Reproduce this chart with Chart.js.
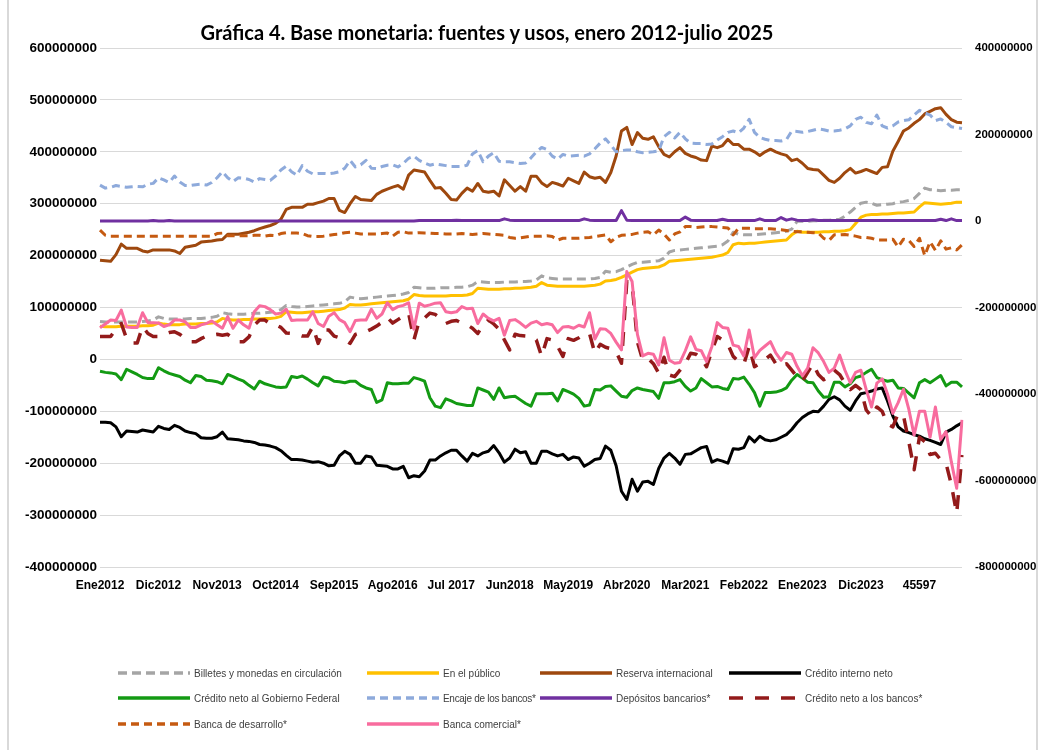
<!DOCTYPE html>
<html lang="es">
<head>
<meta charset="utf-8">
<title>Base monetaria: fuentes y usos</title>
<script src="https://cdn.jsdelivr.net/npm/chart.js@4.4.1/dist/chart.umd.min.js"></script>
<style>
  html, body { margin: 0; padding: 0; background: #fff; }
  #wrap { position: relative; width: 1041px; height: 750px; overflow: hidden; }
  #wrap::before, #wrap::after { content: ""; position: absolute; top: 0; bottom: 0; width: 2px; background: #d9d9d9; }
  #wrap::before { left: 7px; }
  #wrap::after { left: 1036px; }
  #title { position: absolute; left: 0; width: 974px; top: 20px; text-align: center;
           font: bold 20px Lato, "Open Sans", sans-serif; color: #000; }
  canvas { position: absolute; left: 0; top: 0; }
  .lg { position: absolute; display: flex; align-items: center; height: 12px;
        font: 10px "Liberation Sans", Arial, sans-serif; color: #404040; white-space: nowrap; }
  .lg svg { margin-right: 4px; }
</style>
</head>
<body>
<div id="wrap">
  <canvas id="chart" width="1041" height="750"></canvas>
  <div id="title">Gráfica 4. Base monetaria: fuentes y usos, enero 2012-julio 2025</div>
  <div id="legend"></div>
</div>
<script>
// millones de pesos, mensual ene 2012 - jul 2025
const tickLabels = ["Ene2012", "Dic2012", "Nov2013", "Oct2014", "Sep2015", "Ago2016", "Jul 2017",
  "Jun2018", "May2019", "Abr2020", "Mar2021", "Feb2022", "Ene2023", "Dic2023", "45597"];

const billetes = [
  73,72,72,72,72,72,72,72,73,74,76,82,
  79,78,78,78,78,79,79,79,80,81,83,90,
  88,87,87,87,88,89,89,90,91,93,96,104,
  102,101,101,102,103,104,105,106,107,108,111,120,
  118,117,118,119,120,121,122,123,124,126,129,139,
  138,137,137,137,138,138,138,139,139,140,143,150,
  149,148,148,148,149,149,149,150,150,151,153,161,
  157,156,155,155,155,155,155,155,155,156,158,170,
  168,169,173,178,183,187,187,188,189,190,195,207,
  210,211,212,213,214,215,216,217,218,221,228,245,
  241,240,240,240,241,242,243,244,245,247,251,266,
  266,266,267,267,268,268,269,270,276,284,293,301,
  303,301,297,298,299,300,303,304,306,310,320,330,
  327,326,325,326,326,327,327
];

const enPublico = [
  64,63,63,63,64,64,64,64,65,65,66,70,
  68,67,67,67,68,68,68,69,69,70,72,79,
  77,76,76,77,77,78,78,79,79,80,83,92,
  91,90,90,91,92,92,93,94,95,96,99,106,
  105,105,106,107,108,109,110,111,112,113,116,125,
  123,122,122,122,122,122,123,123,123,124,127,137,
  136,135,135,135,136,136,137,137,138,139,141,148,
  143,142,141,141,141,141,141,141,142,143,145,151,
  152,154,158,163,168,173,175,176,177,178,182,189,
  190,191,192,193,194,195,196,197,199,201,206,221,
  224,223,224,224,225,226,227,228,229,230,240,247,
  245,245,245,245,246,246,247,247,248,250,262,274,
  278,279,279,280,280,281,282,282,283,284,294,302,
  301,300,299,300,301,303,303
];

const reserva = [
  191,190,189,202,222,214,214,214,209,207,211,211,
  211,211,209,204,216,218,220,226,227,228,230,231,
  241,241,241,243,245,248,252,255,258,262,270,289,
  293,293,293,299,299,302,305,310,310,287,283,300,
  314,308,307,306,318,324,328,332,335,328,355,365,
  363,361,345,330,331,320,308,307,320,330,324,339,
  324,322,324,315,346,335,324,333,324,353,353,340,
  333,341,338,334,349,344,339,361,352,349,351,341,
  360,392,440,447,414,437,426,424,429,410,395,390,
  400,408,397,392,389,384,383,411,408,412,424,414,
  414,405,405,400,393,400,405,400,396,393,383,386,
  378,368,366,365,355,345,341,349,360,368,359,362,
  366,362,358,370,371,401,420,440,446,455,462,473,
  478,483,485,472,462,457,456
];

const creditoInterno = [
  -121,-121,-122,-130,-149,-138,-139,-140,-136,-138,-140,-129,
  -133,-135,-127,-131,-138,-141,-143,-151,-152,-152,-149,-140,
  -153,-154,-155,-157,-158,-160,-164,-165,-167,-170,-176,-185,
  -193,-193,-194,-196,-198,-197,-200,-205,-204,-186,-177,-183,
  -200,-200,-186,-188,-204,-205,-206,-211,-211,-206,-228,-224,
  -226,-215,-194,-194,-186,-180,-175,-175,-186,-196,-181,-186,
  -180,-177,-166,-180,-198,-190,-173,-180,-178,-200,-200,-177,
  -177,-182,-186,-183,-193,-188,-190,-206,-200,-193,-191,-167,
  -175,-205,-254,-270,-231,-254,-236,-235,-241,-210,-190,-181,
  -190,-202,-183,-182,-176,-170,-168,-198,-193,-196,-200,-172,
  -173,-170,-149,-159,-148,-155,-157,-155,-150,-145,-135,-122,
  -112,-105,-100,-101,-90,-77,-72,-78,-90,-98,-80,-66,
  -64,-61,-57,-55,-80,-109,-130,-138,-141,-145,-148,-153,
  -156,-160,-164,-140,-135,-128,-122
];

const gobiernoFederal = [
  -23,-25,-26,-28,-39,-19,-24,-29,-35,-37,-37,-16,
  -22,-27,-30,-33,-40,-45,-31,-33,-40,-41,-43,-47,
  -29,-33,-38,-42,-50,-57,-42,-47,-50,-53,-54,-53,
  -33,-35,-32,-38,-45,-51,-34,-36,-42,-43,-45,-42,
  -42,-50,-55,-58,-83,-78,-45,-47,-47,-46,-46,-35,
  -38,-42,-74,-90,-93,-76,-80,-85,-87,-89,-89,-55,
  -59,-63,-77,-55,-74,-72,-71,-78,-85,-90,-66,-66,
  -66,-65,-80,-58,-62,-67,-75,-90,-88,-58,-59,-52,
  -51,-61,-71,-73,-60,-55,-58,-60,-62,-75,-45,-45,
  -43,-39,-52,-61,-55,-37,-45,-53,-52,-56,-58,-37,
  -38,-34,-48,-64,-90,-64,-64,-63,-60,-55,-40,-29,
  -36,-44,-45,-61,-73,-72,-44,-44,-53,-47,-35,-32,
  -25,-19,-35,-39,-42,-40,-55,-56,-65,-74,-45,-39,
  -45,-38,-31,-51,-44,-44,-53
];

// eje secundario
const encaje = [
  83,76,78,82,80,78,79,80,79,85,87,100,
  95,89,104,90,82,82,84,85,83,89,100,114,
  100,91,100,99,96,90,98,96,94,104,118,127,
  114,106,128,115,109,110,110,109,111,114,122,140,
  125,130,140,122,121,126,129,130,125,133,145,150,
  140,134,129,132,130,128,126,126,126,129,155,163,
  137,150,158,138,137,137,135,133,134,146,160,170,
  165,150,143,154,150,151,152,150,155,167,180,190,
  176,160,163,164,164,160,158,159,160,162,195,205,
  192,205,190,180,179,179,177,178,187,195,205,208,
  204,215,235,205,193,189,186,186,185,188,208,207,
  205,207,210,213,211,208,208,210,213,220,235,240,
  228,225,245,220,215,220,229,232,234,245,256,250,
  245,232,236,228,218,216,214
];

const depositos = [
  0,0,0,0,0,0,0,0,0,0,1,0,
  0,1,0,0,0,0,0,0,0,0,0,0,
  0,0,0,0,0,0,0,0,0,0,0,0,
  0,0,0,0,0,0,0,0,0,0,0,0,
  0,0,0,0,0,0,0,0,0,0,0,0,
  1,1,1,1,1,1,1,2,1,1,1,1,
  1,1,1,1,5,2,1,1,1,1,1,1,
  1,1,1,1,1,1,1,5,2,1,1,1,
  1,1,24,2,1,1,1,1,1,1,1,1,
  1,1,9,2,1,1,1,1,1,4,1,1,
  1,1,1,1,5,1,1,1,8,2,5,2,
  1,1,3,1,1,1,1,1,1,1,1,1,
  1,1,1,1,1,1,1,1,1,1,1,1,
  1,1,4,1,5,1,1
];

const creditoBancos = [
  -267,-267,-267,-250,-237,-272,-282,-282,-244,-260,-267,-267,
  -262,-258,-256,-262,-272,-279,-279,-272,-266,-264,-262,-264,
  -262,-272,-279,-279,-268,-241,-229,-229,-238,-240,-246,-259,
  -260,-262,-266,-266,-244,-283,-252,-252,-266,-270,-275,-283,
  -262,-258,-256,-250,-243,-234,-223,-236,-228,-220,-213,-275,
  -230,-224,-213,-216,-225,-237,-232,-230,-236,-240,-248,-260,
  -240,-229,-238,-250,-275,-298,-262,-265,-266,-266,-275,-313,
  -272,-275,-290,-313,-272,-276,-270,-262,-260,-306,-285,-292,
  -295,-302,-329,-140,-145,-280,-322,-318,-330,-352,-315,-356,
  -360,-345,-330,-306,-308,-318,-337,-300,-267,-275,-285,-313,
  -325,-331,-290,-337,-330,-320,-310,-330,-337,-330,-345,-360,
  -370,-350,-330,-355,-367,-360,-345,-355,-375,-390,-380,-390,
  -437,-452,-430,-440,-470,-476,-445,-450,-510,-575,-500,-510,
  -540,-537,-552,-560,-610,-676,-541
];

const bancaDesarrollo = [
  -21,-33,-35,-35,-35,-35,-35,-35,-35,-35,-35,-35,
  -35,-35,-35,-35,-35,-35,-35,-35,-35,-35,-29,-28,
  -34,-34,-34,-34,-34,-33,-33,-35,-33,-34,-29,-27,
  -28,-28,-29,-34,-36,-36,-35,-33,-31,-30,-27,-26,
  -28,-30,-30,-30,-30,-29,-28,-35,-26,-25,-28,-28,
  -27,-28,-28,-29,-29,-30,-30,-30,-29,-30,-31,-30,
  -29,-30,-31,-32,-33,-38,-40,-39,-37,-35,-35,-35,
  -34,-36,-44,-40,-40,-40,-40,-39,-38,-36,-34,-32,
  -48,-38,-33,-32,-31,-28,-26,-25,-32,-21,-30,-44,
  -30,-25,-13,-13,-15,-14,-13,-13,-14,-15,-16,-32,
  -17,-17,-17,-18,-18,-18,-18,-19,-20,-22,-24,-25,
  -25,-26,-27,-28,-40,-45,-32,-32,-31,-33,-35,-38,
  -38,-40,-44,-44,-44,-42,-60,-42,-45,-59,-40,-80,
  -48,-68,-46,-65,-62,-67,-55
];

const bancaComercial = [
  -247,-238,-229,-230,-206,-245,-246,-246,-212,-235,-235,-236,
  -244,-240,-229,-229,-233,-246,-246,-240,-237,-231,-240,-248,
  -221,-248,-229,-240,-248,-210,-196,-198,-205,-215,-213,-204,
  -230,-229,-229,-229,-210,-237,-244,-220,-212,-228,-235,-256,
  -230,-229,-229,-204,-225,-215,-189,-205,-198,-195,-189,-250,
  -190,-197,-194,-190,-189,-210,-212,-210,-198,-203,-202,-237,
  -215,-225,-231,-225,-264,-230,-228,-236,-246,-236,-232,-240,
  -237,-240,-258,-245,-244,-248,-241,-245,-212,-273,-249,-250,
  -260,-280,-298,-117,-140,-262,-312,-306,-308,-333,-270,-322,
  -329,-327,-300,-268,-297,-300,-325,-290,-235,-246,-248,-287,
  -290,-312,-252,-316,-299,-289,-279,-305,-322,-304,-308,-336,
  -358,-340,-293,-305,-325,-350,-340,-310,-345,-374,-350,-345,
  -390,-430,-375,-365,-400,-445,-420,-389,-435,-495,-440,-440,
  -500,-430,-505,-487,-557,-618,-460
];

const seriesNames = [
  "Billetes y monedas en circulación", "En el público", "Reserva internacional", "Crédito interno neto",
  "Crédito neto al Gobierno Federal", "Encaje de los bancos*", "Depósitos bancarios*", "Crédito neto a los bancos*",
  "Banca de desarrollo*", "Banca comercial*"
];

const meses = ["Ene","Feb","Mar","Abr","May","Jun","Jul","Ago","Sep","Oct","Nov","Dic"];
const months = [];
for (let y = 2012; y <= 2025; y++) {
  for (let m = 0; m < 12; m++) {
    if (y === 2025 && m > 6) break;
    months.push(meses[m] + " " + y);
  }
}

const styles = [
  { data: billetes, color: "#a5a5a5", dash: [9, 5], width: 3, axis: "y" },
  { data: enPublico, color: "#ffc000", dash: [], width: 3, axis: "y" },
  { data: reserva, color: "#9e480e", dash: [], width: 3, axis: "y" },
  { data: creditoInterno, color: "#000000", dash: [], width: 3, axis: "y" },
  { data: gobiernoFederal, color: "#139a13", dash: [], width: 3, axis: "y" },
  { data: encaje, color: "#8eaadb", dash: [8, 5], width: 3, axis: "y2" },
  { data: depositos, color: "#7030a0", dash: [], width: 3, axis: "y2" },
  { data: creditoBancos, color: "#931a1a", dash: [14, 12], width: 3.5, axis: "y2" },
  { data: bancaDesarrollo, color: "#c55a11", dash: [8, 5], width: 3, axis: "y2" },
  { data: bancaComercial, color: "#f86c9e", dash: [], width: 3, axis: "y2" }
];

const datasets = styles.map((s, i) => ({
  label: seriesNames[i],
  data: s.data.map(v => v * 1e6),
  yAxisID: s.axis,
  borderColor: s.color,
  backgroundColor: s.color,
  borderWidth: s.width,
  borderDash: s.dash,
  pointRadius: 0,
  tension: 0,
  order: 10 - i
}));

const tickFont = { family: "'Liberation Sans', Arial, sans-serif", weight: "bold" };

new Chart(document.getElementById("chart"), {
  type: "line",
  data: { labels: months, datasets },
  options: {
    responsive: false,
    animation: false,
    devicePixelRatio: 1,
    layout: { padding: { top: 48, left: 0, right: 0, bottom: 143 } },
    elements: { line: { borderJoinStyle: "round" } },
    plugins: { legend: { display: false }, tooltip: { enabled: false } },
    scales: {
      x: {
        grid: { display: false, drawTicks: false },
        border: { display: false },
        ticks: {
          autoSkip: false, maxRotation: 0, minRotation: 0, padding: 11,
          color: "#000", font: { ...tickFont, size: 12 },
          callback: (v, i) => (i % 11 === 0 ? tickLabels[i / 11] : "")
        },
        afterFit: s => { s.height = 40; }
      },
      y: {
        position: "left", min: -400e6, max: 600e6,
        grid: { color: "#d9d9d9", lineWidth: 1, drawTicks: false },
        border: { display: false },
        ticks: { stepSize: 100e6, padding: 3, color: "#000", font: { ...tickFont, size: 13.5 },
                 callback: v => String(v) },
        afterFit: s => { s.width = 100; }
      },
      y2: {
        position: "right", min: -800e6, max: 400e6,
        grid: { display: false, drawTicks: false },
        border: { display: false },
        ticks: { stepSize: 200e6, padding: 13, color: "#000", font: { ...tickFont, size: 11.5 },
                 callback: v => String(v) },
        afterFit: s => { s.width = 79; }
      }
    }
  }
});

// leyenda en cuatro columnas
const legendCols = [118, 367, 540, 729];
const legendRows = [667, 692, 718];
const legend = document.getElementById("legend");
styles.forEach((s, i) => {
  const item = document.createElement("div");
  item.className = "lg";
  item.style.left = legendCols[i % 4] + "px";
  item.style.top = legendRows[Math.floor(i / 4)] + "px";
  if (i === 5) item.style.letterSpacing = "-0.3px";
  const dash = s.dash.length ? ` stroke-dasharray="${s.dash.join(" ")}"` : "";
  item.innerHTML = `<svg width="72" height="8"><line x1="0" y1="4" x2="72" y2="4" stroke="${s.color}" stroke-width="3.5"${dash}/></svg>`;
  item.appendChild(document.createTextNode(seriesNames[i]));
  legend.appendChild(item);
});
</script>
</body>
</html>
